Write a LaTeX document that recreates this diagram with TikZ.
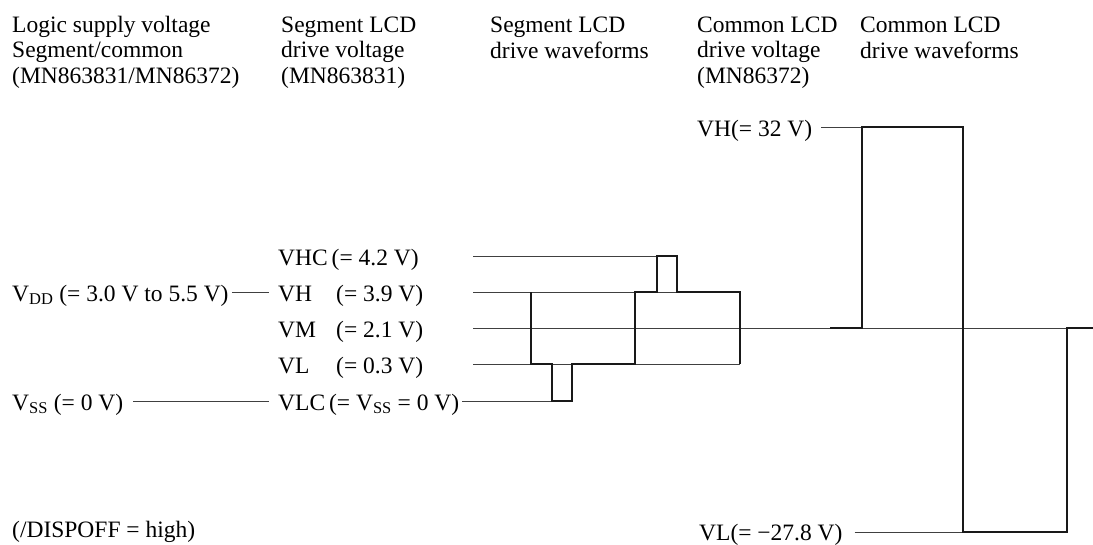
\documentclass[tikz,border=0pt]{standalone}
\usepackage{fontspec}
\setmainfont{Liberation Serif}
\usetikzlibrary{positioning}

\tikzset{
  lbl/.style={anchor=base west, inner sep=0pt, align=left,
    font=\fontsize{23.5}{25.5}\selectfont},
  ref/.style={line width=0.9pt, black!75},
  wave/.style={line width=2.3pt, black!90, line join=miter}
}

\begin{document}
\begin{tikzpicture}[x=1pt,y=-1pt]
\useasboundingbox (0,0) rectangle (1093,544);

      % column headings (base = last line)
      \node[lbl] (hlogic) at (12,83) {Logic supply voltage\\Segment/common\\(MN863831/MN86372)};
      \node[lbl] (hsegv) at (281,83) {Segment LCD\\drive voltage\\(MN863831)};
      \node[lbl] (hsegw) at (490,58) {Segment LCD\\drive waveforms};
      \node[lbl] (hcomv) at (697,83) {Common LCD\\drive voltage\\(MN86372)};
      \node[lbl] (hcomw) at (860,58) {Common LCD\\drive waveforms};

      % levels
      \foreach \n/\y in {VHC/256,VH/292,VM/328,VL/364,VLC/401,CH/127,CL/532}
        \coordinate (lv\n) at (473,\y);
      \foreach \n/\x in {A/531,B/552,C/572,D/635,E/657,F/677,G/740}
        \coordinate (seg\n) at (\x,0);
      \foreach \n/\x in {A/830,B/862,C/963,D/1067,E/1093}
        \coordinate (com\n) at (\x,0);

      % supply and segment voltages
      \node[lbl] (vdd) at (12,301) {V\textsubscript{DD} (= 3.0 V to 5.5 V)};
      \node[lbl] (vss) at (12,410) {V\textsubscript{SS} (= 0 V)};
      \node[lbl] (vhc) at (278,265) {VHC\,(= 4.2 V)};
      \node[lbl] (vh) at (278,301) {\makebox[58pt][l]{VH}(= 3.9 V)};
      \node[lbl] (vm) at (278,337) {\makebox[58pt][l]{VM}(= 2.1 V)};
      \node[lbl] (vl) at (278,373) {\makebox[58pt][l]{VL}(= 0.3 V)};
      \node[lbl] (vlc) at (278,410) {VLC\,(= V\textsubscript{SS} = 0 V)};

      % common voltages
      \node[lbl] (vh32) at (697,136) {VH(= 32 V)};
      \node[lbl] (vl27) at (699,540) {VL(= −27.8 V)};
      \node[lbl] (dispoff) at (12,537) {(/DISPOFF = high)};

      \draw[ref] ([xshift=3pt]vdd.east |- lvVH) -- ([xshift=-9pt]vh.west |- lvVH);
      \draw[ref] ([xshift=10pt]vss.east |- lvVLC) -- ([xshift=-9pt]vlc.west |- lvVLC);
      \draw[ref] ([xshift=3pt]vlc.east |- lvVLC) -- (segB |- lvVLC);
      \draw[ref] ([xshift=9pt]vh32.east |- lvCH) -- (comB |- lvCH);
      \draw[ref] ([xshift=12pt]vl27.east |- lvCL) -- (comC |- lvCL);

      \draw[ref] (lvVHC) -- (segE |- lvVHC);
      \draw[ref] (lvVH) -- (segG |- lvVH);
      \draw[ref] (lvVM) -- (comE |- lvVM);
      \draw[ref] (lvVL) -- (segG |- lvVL);

      % segment waveform
      \draw[wave] (segA |- lvVH) -- (segA |- lvVL) -- (segB |- lvVL) -- (segB |- lvVLC)
        -- (segC |- lvVLC) -- (segC |- lvVL) -- (segD |- lvVL) -- (segD |- lvVH)
        -- (segE |- lvVH) -- (segE |- lvVHC) -- (segF |- lvVHC) -- (segF |- lvVH)
        -- (segG |- lvVH) -- (segG |- lvVL);

      % common waveform
      \draw[wave] (comA |- lvVM) -- (comB |- lvVM) -- (comB |- lvCH) -- (comC |- lvCH)
        -- (comC |- lvCL) -- (comD |- lvCL) -- (comD |- lvVM) -- (comE |- lvVM);

\end{tikzpicture}
\end{document}
